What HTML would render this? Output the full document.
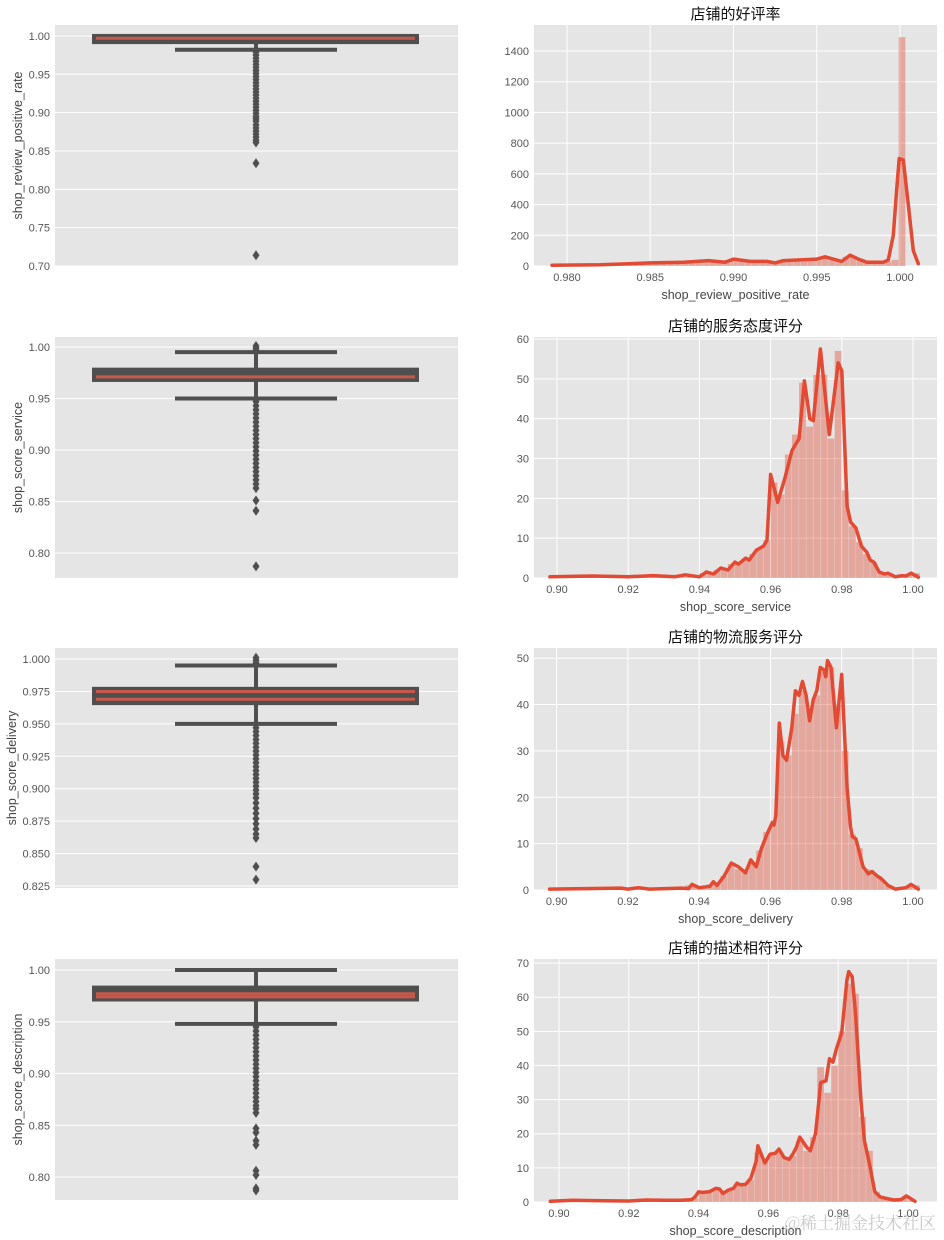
<!DOCTYPE html>
<html><head><meta charset="utf-8">
<style>
html,body{margin:0;padding:0;background:#fff;}
svg{display:block;font-family:"Liberation Sans","Noto Sans CJK SC",sans-serif;}
.tk{font-size:11px;fill:#555;}
.al{font-size:12.5px;fill:#444;}
.tt{font-size:15px;fill:#111;font-family:"Noto Sans CJK SC","WenQuanYi Zen Hei",sans-serif;}
</style></head>
<body>
<svg id="fig" width="944" height="1240" viewBox="0 0 944 1240" xmlns="http://www.w3.org/2000/svg"></svg>
<script>
// ---------- BOX PLOT DATA ----------
const box1Ticks=[1.00,0.95,0.90,0.85,0.80,0.75,0.70];
const box1Stats=[0.992,1.000,0.982,0.9995]; // q1,q3,whiskerLo,whiskerHi
const box1Lines=[0.997];
const box1Outliers=[0.979,0.975,0.971,0.967,0.963,0.959,0.955,0.951,0.947,0.943,0.939,0.935,0.931,0.927,0.923,0.919,0.915,0.911,0.907,0.903,0.899,0.895,0.892,0.889,0.884,0.880,0.876,0.872,0.868,0.864,0.861,0.834,0.714];

const box2Ticks=[1.00,0.95,0.90,0.85,0.80];
const box2Stats=[0.968,0.978,0.950,0.995];
const box2Lines=[0.971];
const box2Outliers=[1.001,0.999,0.997,0.947,0.943,0.939,0.935,0.931,0.927,0.923,0.919,0.915,0.911,0.907,0.903,0.899,0.895,0.891,0.887,0.883,0.879,0.875,0.871,0.867,0.863,0.851,0.841,0.787];

const box3Ticks=[1.000,0.975,0.950,0.925,0.900,0.875,0.850,0.825];
const box3Stats=[0.966,0.977,0.950,0.995];
const box3Lines=[0.975,0.969];
const box3Outliers=[1.001,0.999,0.997,0.947,0.944,0.941,0.938,0.935,0.932,0.929,0.926,0.923,0.920,0.917,0.914,0.911,0.908,0.905,0.902,0.899,0.896,0.893,0.889,0.885,0.881,0.877,0.873,0.869,0.865,0.862,0.840,0.830];

const box4Ticks=[1.00,0.95,0.90,0.85,0.80];
const box4Stats=[0.9715,0.983,0.948,1.000];
const box4Lines=[0.977,0.974];
const box4Outliers=[0.945,0.941,0.937,0.933,0.929,0.925,0.921,0.917,0.913,0.909,0.905,0.901,0.897,0.893,0.889,0.885,0.881,0.877,0.873,0.869,0.866,0.862,0.847,0.843,0.835,0.831,0.806,0.802,0.789,0.787];

// ---------- HISTOGRAM / KDE DATA ----------
const hist1XTicks=[0.980,0.985,0.990,0.995,1.000];
const hist1YTicks=[0,200,400,600,800,1000,1200,1400];
const hist1BinStart=0.97934, hist1BinWidth=0.00042;
const hist1Counts=[4,5,6,5,7,8,9,10,10,12,13,14,15,14,16,18,20,22,25,22,30,28,35,25,38,45,30,28,25,32,35,30,35,40,42,38,45,50,55,48,40,60,65,45,30,28,25,30,40,1490];
const kde1X=[0.9791,0.982,0.985,0.987,0.9885,0.9895,0.990,0.991,0.992,0.9925,0.993,0.994,0.995,0.9955,0.9965,0.997,0.9975,0.998,0.999,0.9993,0.9996,0.9998,0.99995,1.0002,1.0005,1.0008,1.0011];
const kde1Y=[5,8,20,25,35,25,45,30,30,20,35,40,45,60,30,70,45,25,25,40,200,500,700,690,400,100,15];

const hist2XTicks=[0.90,0.92,0.94,0.96,0.98,1.00];
const hist2YTicks=[0,10,20,30,40,50,60];
const hist2BinStart=0.898, hist2BinWidth=0.002;
const hist2Counts=[0.3,0.2,0.2,0.2,0.4,0.2,0.4,0.2,0.2,0.2,0.3,0.2,0.2,0.3,0.5,0.3,0.2,0.2,0.6,0.3,0.2,1.2,1.2,2,2.2,3.5,4,4.5,6,7.5,9.5,24,21,31,36,49,38,51,51,35,57,22,13,9,6,4,1.5,1,0.5,0.6,1,1.2];
const kde2X=[0.898,0.91,0.92,0.927,0.933,0.936,0.94,0.942,0.944,0.946,0.948,0.95,0.951,0.953,0.954,0.956,0.958,0.959,0.960,0.962,0.964,0.966,0.968,0.9695,0.971,0.972,0.974,0.9765,0.979,0.980,0.9815,0.9825,0.984,0.9855,0.987,0.988,0.989,0.9905,0.992,0.993,0.995,0.997,0.998,0.9995,1.0015];
const kde2Y=[0.3,0.5,0.3,0.6,0.3,0.8,0.3,1.5,1,2.5,2,4,3.5,5,4.5,7,8,9.5,26,19,25,32,35,49.5,40,39.5,57.5,36,54,52,18,14,12.5,8,6.5,4.5,4,1.5,1,1.2,0.3,0.6,0.5,1.2,0.2];

const hist3XTicks=[0.90,0.92,0.94,0.96,0.98,1.00];
const hist3YTicks=[0,10,20,30,40,50];
const hist3BinStart=0.898, hist3BinWidth=0.002;
const hist3Counts=[0.2,0.2,0.2,0.2,0.2,0.2,0.2,0.2,0.2,0.2,0.4,0.5,0.3,0.2,0.2,0.2,0.2,0.2,0.4,1.0,0.8,0.7,1.2,1.5,3,5.5,4.5,4.5,6,8.5,12.5,15,32,29,38,43,39,42,47,48,40,30,12,9,4.5,3.5,2.5,1,0.3,0.4,0.8,1];
const kde3X=[0.898,0.918,0.92,0.923,0.926,0.935,0.937,0.938,0.94,0.943,0.944,0.945,0.947,0.949,0.951,0.953,0.9545,0.956,0.9575,0.959,0.9605,0.961,0.9615,0.9625,0.9635,0.9645,0.966,0.967,0.968,0.969,0.970,0.971,0.972,0.973,0.974,0.975,0.9755,0.976,0.977,0.9785,0.980,0.9815,0.9825,0.983,0.984,0.985,0.986,0.9875,0.9885,0.990,0.991,0.993,0.995,0.998,0.9995,1.0015];
const kde3Y=[0.2,0.4,0.2,0.5,0.2,0.4,0.3,1.2,0.5,0.8,1.8,1.0,3,5.8,5,3.7,6.5,5,9,12,14.5,14,16,36,29,28,35,43,42,45,42,36.5,41,43,48,47.5,46,49.5,48,35,46.5,22,13.5,11.5,11,8,5,3.5,4,3,2.5,1,0.2,0.5,1.2,0.2];

const hist4XTicks=[0.90,0.92,0.94,0.96,0.98,1.00];
const hist4YTicks=[0,10,20,30,40,50,60,70];
const hist4BinStart=0.898, hist4BinWidth=0.002;
const hist4Counts=[0.2,0.2,0.3,0.4,0.3,0.2,0.4,0.2,0.2,0.2,0.2,0.2,0.4,0.3,0.5,0.3,0.3,0.5,0.3,0.6,1.2,3,3,3.8,3,3.5,4.8,5.2,6.5,14.5,12,14,15,13,13.5,18,15,19,39.5,32,40,50,64,61,25,15,3,1.2,0.8,0.6,1.2,0.5];
const kde4X=[0.8975,0.904,0.91,0.92,0.925,0.93,0.935,0.938,0.939,0.940,0.941,0.943,0.944,0.945,0.946,0.947,0.9485,0.950,0.951,0.952,0.9535,0.955,0.9565,0.957,0.9585,0.959,0.9605,0.962,0.963,0.9645,0.966,0.967,0.968,0.969,0.970,0.971,0.972,0.9735,0.974,0.975,0.9765,0.9775,0.9785,0.9795,0.981,0.9825,0.983,0.984,0.985,0.9865,0.9875,0.989,0.9905,0.992,0.994,0.996,0.998,0.9995,1.002];
const kde4Y=[0.2,0.5,0.4,0.3,0.6,0.5,0.5,0.7,1.5,3,2.8,3,3.5,4,3.8,2.5,3.5,4,5.5,5,5.2,7,12,16.5,12.5,11.5,14,14.3,15.5,13,12.5,14,16,19,17.5,16,15,20,25,35,35.5,42,41,45,49.5,65,67.5,66,55,30,18,11,3,1.5,1,0.6,0.7,1.8,0.2];

// ---------- RENDERING ----------
const NS='http://www.w3.org/2000/svg';
const svg=document.getElementById('fig');
function mk(tag,attrs,parent){const e=document.createElementNS(NS,tag);for(const k in attrs)e.setAttribute(k,attrs[k]);(parent||svg).appendChild(e);return e;}
function lin(d0,d1,r0,r1){return v=>r0+(v-d0)/(d1-d0)*(r1-r0);}

function drawBox(idx,top,bottom,vTop,vBot,ticks,dec,stats,lines,outliers,label){
  const L=55,R=458,cx=256;
  const g=mk('g',{});
  
  
  const y=lin(vTop,vBot,top,bottom);
  const bg=mk('rect',{x:L,y:top,width:R-L,height:bottom-top,fill:'#e5e5e5'},g);
  
  
  ticks.forEach(t=>{
    const gl=mk('line',{x1:L,x2:R,y1:y(t),y2:y(t),stroke:'#fff','stroke-width':1},g);
    
    
    const tx=mk('text',{x:L-5,y:y(t)+4,'text-anchor':'end',class:'tk'},g);
    tx.textContent=t.toFixed(dec);
    
    
  });
  const col='#4f4f4f';
  // whiskers
  const w=mk('line',{x1:cx,x2:cx,y1:y(stats[3]),y2:y(stats[2]),stroke:col,'stroke-width':4},g);
  
  
  [stats[2],stats[3]].forEach(v=>{
    const c=mk('line',{x1:175,x2:337,y1:y(v),y2:y(v),stroke:col,'stroke-width':4},g);
    
    
  });
  outliers.forEach(v=>{
    const yy=y(v);
    const d=mk('path',{d:`M${cx} ${yy-5}L${cx+3.5} ${yy}L${cx} ${yy+5}L${cx-3.5} ${yy}Z`,fill:col},g);
    
    
  });
  const b=mk('rect',{x:94,y:y(stats[1]),width:323,height:Math.max(1,y(stats[0])-y(stats[1])),fill:col,stroke:col,'stroke-width':4},g);
  
  
  lines.forEach(v=>{
    const m=mk('line',{x1:96,x2:415,y1:y(v),y2:y(v),stroke:'#c7584c','stroke-width':3},g);
    
    
  });
  const yl=mk('text',{x:0,y:0,'text-anchor':'middle',class:'al',transform:`translate(${idx===3?16:22},${(top+bottom)/2}) rotate(-90)`},g);
  yl.textContent=label;
  
  
}

function drawHist(idx,top,bottom,xd0,xd1,yMax,xTicks,xDec,yTicks,binStart,binW,counts,kx,ky,xlabel,title){
  const L=534,R=937;
  const g=mk('g',{});
  
  
  const x=lin(xd0,xd1,L,R), y=lin(0,yMax,bottom,top);
  const bg=mk('rect',{x:L,y:top,width:R-L,height:bottom-top,fill:'#e5e5e5'},g);
  
  
  xTicks.forEach(t=>{
    const gl=mk('line',{x1:x(t),x2:x(t),y1:top,y2:bottom,stroke:'#fff','stroke-width':1},g);
    
    
    const tx=mk('text',{x:x(t),y:bottom+15,'text-anchor':'middle',class:'tk'},g);
    tx.textContent=t.toFixed(xDec);
    
    
  });
  yTicks.forEach(t=>{
    const gl=mk('line',{x1:L,x2:R,y1:y(t),y2:y(t),stroke:'#fff','stroke-width':1},g);
    
    
    const tx=mk('text',{x:L-5,y:y(t)+4,'text-anchor':'end',class:'tk'},g);
    tx.textContent=String(t);
    
    
  });
  counts.forEach((c,i)=>{
    const x0=x(binStart+i*binW), x1=x(binStart+(i+1)*binW);
    const r=mk('rect',{x:x0,y:y(c),width:Math.max(0.5,x1-x0-0.3),height:bottom-y(c),fill:'#e24a33','fill-opacity':0.4},g);
    
    
  });
  const pts=kx.map((v,i)=>x(v).toFixed(1)+','+y(ky[i]).toFixed(1)).join(' ');
  const pl=mk('polyline',{points:pts,fill:'none',stroke:'#e24a33','stroke-width':3.5,'stroke-linejoin':'round','stroke-linecap':'round'},g);
  
  
  const xl=mk('text',{x:(L+R)/2,y:bottom+33,'text-anchor':'middle',class:'al'},g);
  xl.textContent=xlabel;
  
  
  const tt=mk('text',{x:(L+R)/2,y:top-6,'text-anchor':'middle',class:'tt'},g);
  tt.textContent=title;
  
  
}

drawBox(1,25,266,1.0143,0.70,box1Ticks,2,box1Stats,box1Lines,box1Outliers,'shop_review_positive_rate');
drawBox(2,337,578,1.0097,0.7757,box2Ticks,2,box2Stats,box2Lines,box2Outliers,'shop_score_service');
drawBox(3,648,888,1.00848,0.8235,box3Ticks,3,box3Stats,box3Lines,box3Outliers,'shop_score_delivery');
drawBox(4,959,1200,1.01063,0.7778,box4Ticks,2,box4Stats,box4Lines,box4Outliers,'shop_score_description');

drawHist(1,25,266,0.978018,1.002222,1569.3,hist1XTicks,3,hist1YTicks,hist1BinStart,hist1BinWidth,hist1Counts,kde1X,kde1Y,'shop_review_positive_rate','店铺的好评率');
drawHist(2,337,578,0.89354,1.00674,60.5,hist2XTicks,2,hist2YTicks,hist2BinStart,hist2BinWidth,hist2Counts,kde2X,kde2Y,'shop_score_service','店铺的服务态度评分');
drawHist(3,648,890,0.89365,1.00674,52.2,hist3XTicks,2,hist3YTicks,hist3BinStart,hist3BinWidth,hist3Counts,kde3X,kde3Y,'shop_score_delivery','店铺的物流服务评分');
drawHist(4,959,1202,0.89284,1.00831,71.2,hist4XTicks,2,hist4YTicks,hist4BinStart,hist4BinWidth,hist4Counts,kde4X,kde4Y,'shop_score_description','店铺的描述相符评分');

const wm=mk('text',{x:936,y:1229,'text-anchor':'end','font-size':17,fill:'#c8c8c8','font-family':'"Noto Serif CJK SC","Noto Sans CJK SC",serif'});
wm.textContent='@稀土掘金技术社区';


</script>
</body></html>
